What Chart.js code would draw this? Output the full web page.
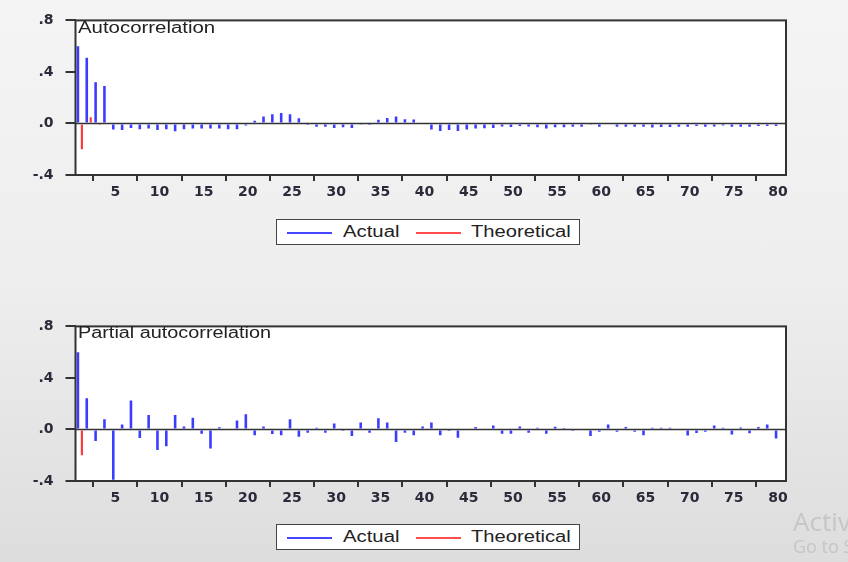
<!DOCTYPE html>
<html>
<head>
<meta charset="utf-8">
<script src="https://cdn.jsdelivr.net/npm/chart.js@4/dist/chart.umd.min.js"></script>
<style>
  html, body { margin:0; padding:0; }
  body { width:848px; height:562px; position:relative; overflow:hidden;
         background: linear-gradient(#f4f4f4 0%, #eeeeee 50%, #dddddd 100%);
         font-family: "Liberation Sans", Arial, sans-serif; }
  .cv { position:absolute; left:0; }
  .ttl { position:absolute; font-size:16px; color:#222; white-space:nowrap; transform-origin:0 0; line-height:1; }
  .leg { position:absolute; width:302px; height:24px; background:#fff; border:1.5px solid #444; }
  .leg .ln { position:absolute; top:12px; height:1.5px; }
  .leg .tx { position:absolute; top:4px; font-size:16px; color:#222; white-space:nowrap; transform-origin:0 0; line-height:1; }
  .wm { position:absolute; color:#c6c6c6; white-space:nowrap; font-family:"Open Sans", sans-serif; line-height:1; }
</style>
</head>
<body>
<canvas id="c1" class="cv" style="top:0px"></canvas>
<canvas id="c2" class="cv" style="top:306px"></canvas>

<div class="ttl" style="left:78px; top:20px; transform:scaleX(1.275)">Autocorrelation</div>
<div class="ttl" style="left:78px; top:325px; transform:scaleX(1.24)">Partial autocorrelation</div>

<div class="leg" style="left:276px; top:219px">
  <div class="ln" style="left:10px; width:45px; background:#4646ff"></div>
  <div class="tx" style="left:66px; transform:scaleX(1.27)">Actual</div>
  <div class="ln" style="left:139px; width:45px; background:#ff4c4c"></div>
  <div class="tx" style="left:194px; transform:scaleX(1.26)">Theoretical</div>
</div>
<div class="leg" style="left:276px; top:524px">
  <div class="ln" style="left:10px; width:45px; background:#4646ff"></div>
  <div class="tx" style="left:66px; transform:scaleX(1.27)">Actual</div>
  <div class="ln" style="left:139px; width:45px; background:#ff4c4c"></div>
  <div class="tx" style="left:194px; transform:scaleX(1.26)">Theoretical</div>
</div>

<div class="wm" style="left:793px; top:508px; font-size:26px">Activate Windows</div>
<div class="wm" style="left:793px; top:537px; font-size:18px">Go to Settings</div>

<script>
// ---- data ----
const lags = [1,2,3,4,5,6,7,8,9,10,11,12,13,14,15,16,17,18,19,20,
  21,22,23,24,25,26,27,28,29,30,31,32,33,34,35,36,37,38,39,40,
  41,42,43,44,45,46,47,48,49,50,51,52,53,54,55,56,57,58,59,60,
  61,62,63,64,65,66,67,68,69,70,71,72,73,74,75,76,77,78,79,80];

const acfActual = [0.60,0.51,0.32,0.29,-0.046,-0.05,-0.035,-0.045,-0.04,-0.05,
  -0.045,-0.06,-0.045,-0.04,-0.04,-0.04,-0.04,-0.045,-0.045,-0.015,
  0.022,0.054,0.071,0.082,0.071,0.041,-0.012,-0.026,-0.025,-0.035,
  -0.03,-0.035,-0.01,-0.012,0.028,0.043,0.054,0.033,0.03,0.0,
  -0.046,-0.058,-0.05,-0.058,-0.046,-0.04,-0.038,-0.035,-0.023,-0.028,
  -0.02,-0.023,-0.03,-0.04,-0.03,-0.03,-0.025,-0.025,-0.01,-0.025,
  -0.008,-0.025,-0.025,-0.025,-0.025,-0.032,-0.028,-0.028,-0.025,-0.025,
  -0.02,-0.025,-0.023,-0.015,-0.025,-0.025,-0.025,-0.02,-0.02,-0.02];
const acfTheoretical = [-0.20,0.048,-0.012];

const pacfActual = [0.60,0.243,-0.09,0.08,-0.39,0.038,0.225,-0.067,0.113,-0.16,
  -0.13,0.113,0.023,0.09,-0.033,-0.148,0.018,-0.008,0.07,0.118,
  -0.044,0.023,-0.036,-0.044,0.08,-0.056,-0.026,0.014,-0.025,0.046,
  -0.005,-0.05,0.054,-0.025,0.087,0.054,-0.097,-0.025,-0.044,0.023,
  0.054,-0.044,-0.005,-0.064,0.0,0.02,0.0,0.03,-0.033,-0.033,
  0.023,-0.025,0.013,-0.033,0.021,0.004,-0.004,0.0,-0.05,-0.018,
  0.038,-0.018,0.02,-0.018,-0.044,0.013,0.013,0.013,0.0,-0.046,
  -0.028,-0.018,0.03,0.013,-0.04,0.015,-0.03,0.02,0.038,-0.07];
const pacfTheoretical = [-0.20];

const xTicks = [5,10,15,20,25,30,35,40,45,50,55,60,65,70,75,80];
const yTicks = [-0.4,0.0,0.4,0.8];
const yTickLabels = ['-.4','.0','.4','.8'];

// ---- style ----
const BLUE = '#3c3cff';
const RED = '#ff3c3c';
const INK = '#333333';

const framePlugin = {
  id:'frame',
  beforeDraw(chart){
    const {ctx, chartArea:a} = chart;
    ctx.save();
    ctx.fillStyle = '#ffffff';
    ctx.fillRect(a.left, a.top, a.right - a.left, a.bottom - a.top);
    ctx.restore();
  },
  beforeDatasetsDraw(chart){
    const {ctx, chartArea:a, scales} = chart;
    const y0 = scales.y.getPixelForValue(0);
    ctx.save();
    ctx.strokeStyle = INK; ctx.lineWidth = 1.5;
    ctx.beginPath(); ctx.moveTo(a.left, y0); ctx.lineTo(a.right, y0); ctx.stroke();
    ctx.restore();
  },
  afterDatasetsDraw(chart){
    const {ctx, chartArea:a} = chart;
    ctx.save();
    ctx.strokeStyle = INK; ctx.lineWidth = 2;
    ctx.strokeRect(a.left, a.top, a.right - a.left, a.bottom - a.top);
    ctx.restore();
  }
};

function toPoints(vals){ return vals.map((v,i)=>({x:lags[i], y:v})); }

function makeChart(id, actual, theo){
  const cv = document.getElementById(id);
  cv.width = 848; cv.height = 260;
  cv.style.width = '848px'; cv.style.height = '260px';
  return new Chart(cv, {
    type:'bar',
    data:{ datasets:[
      { label:'Actual', data:toPoints(actual), backgroundColor:BLUE, borderWidth:0,
        categoryPercentage:0.9, barPercentage:0.65 },
      { label:'Theoretical', data:toPoints(theo), backgroundColor:RED, borderWidth:0,
        categoryPercentage:0.9, barPercentage:0.55 }
    ]},
    options:{
      responsive:false, animation:false, devicePixelRatio:1,
      layout:{ padding:{ left:0, right:62, top:18, bottom:0 } },
      plugins:{ legend:{display:false}, tooltip:{enabled:false}, title:{display:false} },
      scales:{
        x:{ type:'linear', min:0.5, max:80.9, offset:false,
            afterBuildTicks:s=>{ s.ticks = xTicks.map(v=>({value:v})); },
            afterFit:s=>{ s.height = 85; },
            grid:{ drawOnChartArea:false, drawTicks:true, tickLength:6, color:INK, lineWidth:2 },
            border:{ display:false },
            ticks:{ autoSkip:false, maxRotation:0, padding:3, color:'#2a2a3a',
                    font:{ family:'DejaVu Sans', weight:'bold', size:14 } } },
        y:{ min:-0.4, max:0.8,
            afterBuildTicks:s=>{ s.ticks = yTicks.map(v=>({value:v})); },
            afterFit:s=>{ s.width = 75.5; },
            grid:{ drawOnChartArea:false, drawTicks:true, tickLength:10, color:INK, lineWidth:2 },
            border:{ display:false },
            ticks:{ padding:12, color:'#2a2a3a',
                    font:{ family:'DejaVu Sans', weight:'bold', size:14 },
                    callback:(v)=>{ const i = yTicks.findIndex(t=>Math.abs(t-v)<1e-9); return i>=0 ? yTickLabels[i] : ''; } } }
      }
    },
    plugins:[framePlugin]
  });
}

makeChart('c1', acfActual, acfTheoretical);
makeChart('c2', pacfActual, pacfTheoretical);
</script>
</body>
</html>
